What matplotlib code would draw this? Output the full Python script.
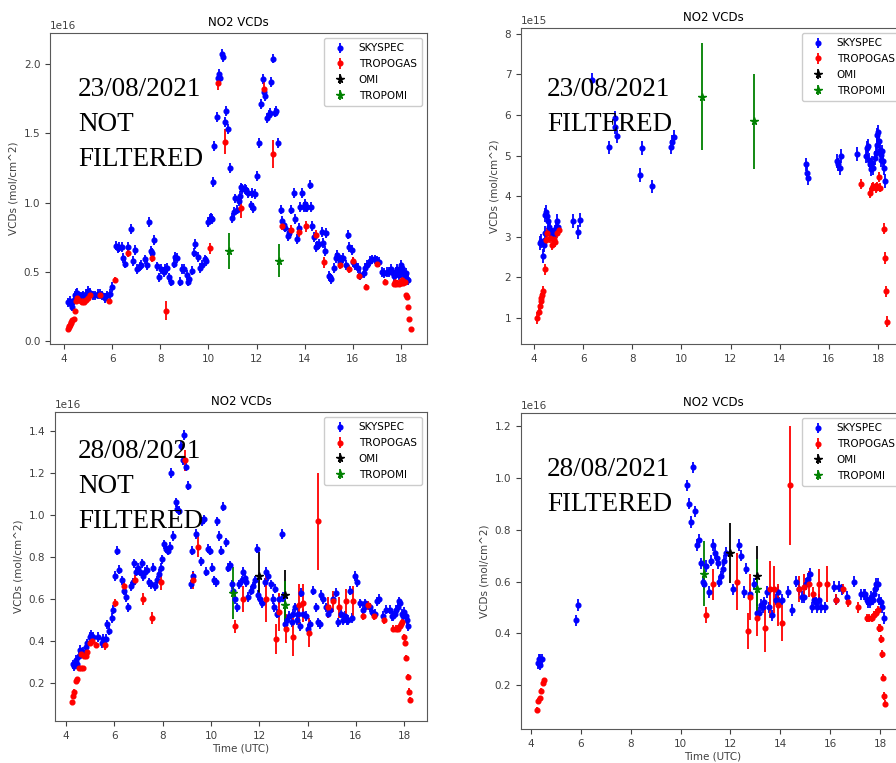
import matplotlib.pyplot as plt
import numpy as np
from matplotlib.ticker import MultipleLocator

# NO2 vertical column densities, values in units of the panel scale
SCALE_2308_RAW = 1e16
SCALE_2308_FILT = 1e15
SCALE_2808 = 1e16

# ---- 23/08/2021, not filtered (x1e16) ----
SKY_2308_RAW = [
    (4.18, 0.28), (4.25, 0.29), (4.3, 0.27), (4.35, 0.25), (4.4, 0.30), (4.45, 0.33),
    (4.5, 0.34), (4.55, 0.35), (4.6, 0.33), (4.65, 0.32), (4.7, 0.31), (4.75, 0.32),
    (4.8, 0.33), (4.9, 0.34), (5.0, 0.36), (5.1, 0.35), (5.2, 0.33), (5.3, 0.33),
    (5.4, 0.34), (5.5, 0.34), (5.6, 0.33), (5.7, 0.31), (5.8, 0.33), (5.9, 0.34),
    (6.0, 0.39), (6.15, 0.69), (6.25, 0.67), (6.3, 0.68), (6.4, 0.68), (6.45, 0.60),
    (6.55, 0.56), (6.65, 0.68), (6.8, 0.81), (6.85, 0.58), (6.95, 0.66), (7.05, 0.52),
    (7.15, 0.54), (7.2, 0.55), (7.35, 0.59), (7.45, 0.55), (7.55, 0.86), (7.6, 0.65),
    (7.65, 0.64), (7.75, 0.73), (7.85, 0.54), (7.95, 0.46), (8.05, 0.52), (8.15, 0.50),
    (8.2, 0.52), (8.3, 0.53), (8.35, 0.46), (8.45, 0.43), (8.55, 0.56), (8.6, 0.61),
    (8.7, 0.60), (8.8, 0.43), (8.9, 0.52), (9.0, 0.52), (9.1, 0.48), (9.15, 0.43),
    (9.2, 0.45), (9.3, 0.51), (9.4, 0.64), (9.45, 0.70), (9.55, 0.61), (9.65, 0.53),
    (9.75, 0.55), (9.85, 0.59), (9.9, 0.58), (10.0, 0.86), (10.05, 0.88), (10.1, 0.89),
    (10.15, 0.88), (10.2, 1.15), (10.25, 1.41), (10.35, 1.62), (10.4, 1.90), (10.45, 1.93),
    (10.5, 1.90), (10.55, 2.07), (10.6, 2.05), (10.7, 1.58), (10.75, 1.66), (10.8, 1.53),
    (10.9, 1.25), (11.0, 0.89), (11.05, 0.93), (11.1, 1.03), (11.2, 0.95), (11.25, 1.01),
    (11.3, 1.05), (11.35, 1.11), (11.4, 1.10), (11.5, 1.10), (11.55, 1.09), (11.65, 1.07),
    (11.75, 0.98), (11.8, 1.07), (11.85, 0.96), (11.95, 1.06), (12.0, 1.19), (12.1, 1.43),
    (12.2, 1.71), (12.25, 1.89), (12.3, 1.80), (12.35, 1.77), (12.45, 1.61), (12.5, 1.63),
    (12.55, 1.65), (12.6, 1.87), (12.7, 2.04), (12.75, 1.65), (12.8, 1.66), (12.9, 1.43),
    (13.0, 0.95), (13.05, 0.87), (13.15, 0.84), (13.2, 0.82), (13.3, 0.76), (13.35, 0.78),
    (13.45, 0.95), (13.55, 1.07), (13.6, 0.88), (13.7, 0.74), (13.75, 0.82), (13.8, 0.97),
    (13.9, 1.07), (13.95, 0.97), (14.0, 0.99), (14.05, 0.97), (14.1, 0.97), (14.2, 1.13),
    (14.25, 0.97), (14.3, 0.83), (14.4, 0.75), (14.45, 0.68), (14.5, 0.69), (14.6, 0.70),
    (14.7, 0.79), (14.75, 0.71), (14.85, 0.65), (14.9, 0.78), (15.0, 0.47), (15.05, 0.46),
    (15.1, 0.45), (15.2, 0.53), (15.3, 0.60), (15.35, 0.62), (15.45, 0.57), (15.5, 0.59),
    (15.6, 0.60), (15.7, 0.55), (15.8, 0.77), (15.85, 0.68), (15.95, 0.66), (16.0, 0.57),
    (16.1, 0.55), (16.2, 0.53), (16.3, 0.48), (16.45, 0.49), (16.5, 0.53), (16.6, 0.55),
    (16.7, 0.58), (16.8, 0.59), (16.9, 0.59), (17.0, 0.58), (17.1, 0.57), (17.2, 0.50),
    (17.3, 0.49), (17.4, 0.50), (17.5, 0.50), (17.6, 0.52), (17.65, 0.49), (17.7, 0.47),
    (17.75, 0.48), (17.8, 0.50), (17.85, 0.52), (17.9, 0.48), (17.95, 0.51), (18.0, 0.55),
    (18.05, 0.53), (18.1, 0.50), (18.15, 0.47), (18.2, 0.49), (18.25, 0.45), (18.3, 0.44),
]
SKY_2308_RAW_ERR = 0.035
TRO_2308_RAW = [
    (4.15, 0.09, 0.01), (4.2, 0.10, 0.01), (4.22, 0.11, 0.01), (4.25, 0.12, 0.01),
    (4.28, 0.13, 0.01), (4.3, 0.14, 0.01), (4.35, 0.15, 0.01), (4.4, 0.16, 0.01),
    (4.45, 0.22, 0.015), (4.5, 0.29, 0.015), (4.55, 0.31, 0.015), (4.6, 0.30, 0.015),
    (4.7, 0.29, 0.015), (4.75, 0.28, 0.015), (4.8, 0.29, 0.015), (4.85, 0.28, 0.015),
    (4.9, 0.30, 0.015), (5.0, 0.31, 0.015), (5.1, 0.33, 0.015), (5.5, 0.33, 0.015),
    (5.85, 0.29, 0.015), (6.1, 0.44, 0.02), (6.65, 0.64, 0.03), (7.65, 0.60, 0.03),
    (8.25, 0.22, 0.07), (10.05, 0.67, 0.04), (10.4, 1.86, 0.05), (10.7, 1.44, 0.09),
    (11.35, 0.96, 0.07), (12.3, 1.82, 0.05), (12.7, 1.35, 0.10), (13.05, 0.83, 0.03),
    (13.45, 0.80, 0.04), (13.75, 0.79, 0.04), (14.05, 0.83, 0.04), (14.45, 0.77, 0.03),
    (14.8, 0.57, 0.04), (15.45, 0.55, 0.03), (15.85, 0.52, 0.03), (16.0, 0.58, 0.03),
    (16.25, 0.47, 0.02), (16.55, 0.39, 0.02), (17.0, 0.56, 0.02), (17.35, 0.43, 0.02),
    (17.7, 0.41, 0.02), (17.75, 0.43, 0.02), (17.8, 0.41, 0.02), (17.85, 0.42, 0.02),
    (17.9, 0.41, 0.02), (17.95, 0.43, 0.02), (18.0, 0.42, 0.02), (18.05, 0.44, 0.02),
    (18.1, 0.42, 0.02), (18.15, 0.43, 0.02), (18.2, 0.33, 0.015), (18.25, 0.32, 0.015),
    (18.3, 0.25, 0.015), (18.35, 0.16, 0.01), (18.4, 0.09, 0.01),
]
OMI_2308_RAW = []
TROPOMI_2308_RAW = [(10.85, 0.65, 0.13), (12.95, 0.58, 0.12)]

# ---- 23/08/2021, filtered (x1e15) ----
SKY_2308_FILT = [
    (4.23, 2.84), (4.27, 2.89), (4.37, 2.52), (4.41, 2.80), (4.44, 3.09), (4.46, 3.54),
    (4.5, 3.62), (4.54, 3.50), (4.57, 3.38), (4.61, 3.25), (4.67, 3.17), (4.71, 3.09),
    (4.78, 3.05), (4.84, 3.13), (4.91, 3.21), (4.95, 3.38), (4.98, 3.25), (5.59, 3.38),
    (5.8, 3.11), (5.89, 3.42), (6.34, 6.86), (7.05, 5.20), (7.3, 5.92), (7.3, 5.71),
    (7.36, 5.47), (8.31, 4.52), (8.38, 5.18), (8.79, 4.24), (9.58, 5.22), (9.63, 5.34),
    (9.69, 5.45), (15.06, 4.78), (15.13, 4.58), (15.16, 4.44), (16.33, 4.86), (16.38, 4.78),
    (16.44, 4.70), (16.49, 4.99), (17.14, 5.03), (17.51, 4.99), (17.55, 5.19), (17.6, 5.23),
    (17.63, 4.90), (17.67, 4.78), (17.7, 4.66), (17.76, 4.82), (17.8, 4.70), (17.86, 4.94),
    (17.91, 5.06), (17.95, 5.27), (17.97, 5.51), (18.0, 5.59), (18.04, 5.35), (18.08, 5.14),
    (18.11, 5.02), (18.13, 4.90), (18.17, 5.10), (18.21, 4.86), (18.23, 4.70), (18.27, 4.37),
]
SKY_2308_FILT_ERR = 0.17
TRO_2308_FILT = [
    (4.14, 1.00, 0.15), (4.19, 1.16, 0.12), (4.23, 1.29, 0.12), (4.27, 1.41, 0.12),
    (4.3, 1.49, 0.12), (4.34, 1.57, 0.12), (4.38, 1.66, 0.14), (4.44, 2.20, 0.14),
    (4.48, 2.93, 0.12), (4.54, 3.09, 0.12), (4.64, 2.97, 0.12), (4.73, 2.80, 0.12),
    (4.82, 2.94, 0.12), (4.87, 2.86, 0.12), (4.95, 3.09, 0.12), (5.01, 3.17, 0.12),
    (17.31, 4.30, 0.12), (17.69, 4.08, 0.12), (17.74, 4.20, 0.12), (17.81, 4.24, 0.12),
    (17.9, 4.20, 0.12), (17.95, 4.24, 0.12), (18.05, 4.48, 0.12), (18.09, 4.21, 0.12),
    (18.23, 3.20, 0.14), (18.28, 2.48, 0.14), (18.33, 1.66, 0.14), (18.37, 0.91, 0.14),
]
OMI_2308_FILT = []
TROPOMI_2308_FILT = [(10.83, 6.45, 1.32), (12.94, 5.84, 1.17)]

# ---- 28/08/2021, not filtered (x1e16) ----
SKY_2808_RAW = [
    (4.3, 0.29), (4.33, 0.28), (4.41, 0.31), (4.45, 0.29), (4.52, 0.33), (4.58, 0.36),
    (4.65, 0.34), (4.72, 0.35), (4.83, 0.37), (4.88, 0.39), (4.97, 0.42), (5.02, 0.43),
    (5.1, 0.42), (5.34, 0.42), (5.48, 0.39), (5.54, 0.41), (5.65, 0.41), (5.71, 0.48),
    (5.79, 0.45), (5.9, 0.51), (5.96, 0.55), (6.03, 0.71), (6.1, 0.83), (6.19, 0.74),
    (6.3, 0.69), (6.4, 0.64), (6.48, 0.61), (6.57, 0.56), (6.68, 0.66), (6.76, 0.68),
    (6.82, 0.77), (6.9, 0.73), (6.99, 0.75), (7.06, 0.73), (7.13, 0.77), (7.2, 0.71),
    (7.26, 0.73), (7.34, 0.74), (7.42, 0.68), (7.5, 0.67), (7.59, 0.75), (7.68, 0.66),
    (7.78, 0.69), (7.86, 0.72), (7.93, 0.75), (7.99, 0.79), (8.06, 0.86), (8.14, 0.84),
    (8.24, 0.83), (8.3, 0.85), (8.33, 1.20), (8.44, 0.90), (8.54, 1.06), (8.61, 1.03),
    (8.68, 1.02), (8.76, 1.33), (8.83, 1.26), (8.9, 1.38), (8.97, 1.23), (9.03, 1.14),
    (9.16, 0.67), (9.2, 0.83), (9.26, 0.71), (9.4, 0.91), (9.57, 0.78), (9.64, 0.97),
    (9.71, 0.98), (9.79, 0.73), (9.89, 0.84), (9.96, 0.83), (10.06, 0.75), (10.14, 0.69),
    (10.21, 0.68), (10.26, 0.97), (10.35, 0.90), (10.42, 0.83), (10.51, 1.04), (10.62, 0.87),
    (10.72, 0.75), (10.79, 0.76), (10.86, 0.67), (10.92, 0.64), (10.99, 0.60), (11.09, 0.56),
    (11.17, 0.67), (11.27, 0.69), (11.34, 0.73), (11.41, 0.70), (11.47, 0.68), (11.54, 0.61),
    (11.64, 0.64), (11.75, 0.66), (11.82, 0.69), (11.89, 0.84), (11.96, 0.62), (12.05, 0.60),
    (12.12, 0.58), (12.23, 0.68), (12.3, 0.73), (12.37, 0.71), (12.47, 0.67), (12.55, 0.60),
    (12.61, 0.56), (12.66, 0.65), (12.75, 0.53), (12.83, 0.60), (12.93, 0.91), (12.99, 0.61),
    (13.06, 0.48), (13.16, 0.50), (13.24, 0.52), (13.34, 0.49), (13.41, 0.53), (13.48, 0.56),
    (13.55, 0.50), (13.61, 0.53), (13.68, 0.47), (13.75, 0.63), (13.82, 0.53), (13.93, 0.52),
    (14.03, 0.46), (14.12, 0.48), (14.23, 0.64), (14.34, 0.56), (14.43, 0.49), (14.5, 0.48),
    (14.57, 0.62), (14.66, 0.60), (14.75, 0.56), (14.86, 0.53), (14.95, 0.55), (15.06, 0.60),
    (15.17, 0.63), (15.27, 0.49), (15.37, 0.53), (15.48, 0.50), (15.56, 0.52), (15.62, 0.50),
    (15.68, 0.50), (15.75, 0.64), (15.86, 0.51), (15.96, 0.71), (16.06, 0.68), (16.17, 0.58),
    (16.31, 0.55), (16.37, 0.58), (16.44, 0.57), (16.57, 0.56), (16.68, 0.54), (16.78, 0.53),
    (16.88, 0.59), (16.97, 0.60), (17.13, 0.52), (17.27, 0.55), (17.41, 0.55), (17.48, 0.52),
    (17.55, 0.52), (17.61, 0.53), (17.68, 0.55), (17.75, 0.56), (17.8, 0.59), (17.85, 0.58),
    (17.9, 0.53), (17.95, 0.52), (18.01, 0.54), (18.06, 0.52), (18.12, 0.50), (18.17, 0.47),
]
SKY_2808_RAW_ERR = 0.022
TRO_2808_RAW = [
    (4.23, 0.11, 0.01), (4.28, 0.14, 0.01), (4.33, 0.16, 0.01), (4.41, 0.21, 0.01),
    (4.47, 0.22, 0.01), (4.52, 0.27, 0.01), (4.61, 0.27, 0.01), (4.69, 0.27, 0.01),
    (4.63, 0.34, 0.015), (4.74, 0.33, 0.015), (4.83, 0.33, 0.015), (4.88, 0.35, 0.015),
    (4.97, 0.39, 0.015), (5.08, 0.40, 0.015), (5.24, 0.38, 0.015), (5.62, 0.38, 0.02),
    (6.03, 0.58, 0.02), (6.4, 0.66, 0.02), (6.84, 0.69, 0.025), (7.2, 0.60, 0.03),
    (7.55, 0.51, 0.03), (7.92, 0.68, 0.035), (8.93, 1.26, 0.05), (9.24, 0.69, 0.04),
    (9.45, 0.85, 0.05), (10.99, 0.47, 0.03), (11.31, 0.60, 0.06), (12.3, 0.60, 0.11),
    (12.69, 0.41, 0.07), (12.83, 0.54, 0.09), (13.1, 0.46, 0.07), (13.41, 0.42, 0.09),
    (13.66, 0.57, 0.10), (13.8, 0.58, 0.09), (14.08, 0.44, 0.07), (14.42, 0.97, 0.23),
    (14.86, 0.56, 0.05), (15.04, 0.59, 0.05), (15.32, 0.56, 0.05), (15.6, 0.59, 0.06),
    (15.9, 0.59, 0.07), (16.31, 0.52, 0.02), (16.51, 0.57, 0.02), (16.74, 0.52, 0.02),
    (17.15, 0.50, 0.02), (17.55, 0.46, 0.015), (17.66, 0.46, 0.015), (17.75, 0.46, 0.015),
    (17.82, 0.47, 0.015), (17.89, 0.48, 0.015), (17.93, 0.49, 0.015), (17.99, 0.42, 0.015),
    (18.04, 0.39, 0.015), (18.1, 0.32, 0.015), (18.15, 0.23, 0.015), (18.21, 0.16, 0.015),
    (18.26, 0.12, 0.015),
]
OMI_2808_RAW = [(12.0, 0.71, 0.115), (13.06, 0.62, 0.12)]
TROPOMI_2808_RAW = [(10.92, 0.63, 0.125), (13.06, 0.57, 0.115)]

# ---- 28/08/2021, filtered (x1e16) ----
SKY_2808_FILT = [
    (4.29, 0.285), (4.33, 0.30), (4.37, 0.30), (4.44, 0.30), (4.37, 0.28), (5.82, 0.45),
    (5.9, 0.51), (10.26, 0.97), (10.35, 0.90), (10.42, 0.83), (10.51, 1.04), (10.58, 0.87),
    (10.66, 0.74), (10.73, 0.76), (10.82, 0.67), (10.89, 0.60), (10.95, 0.59), (11.03, 0.66),
    (11.12, 0.56), (11.22, 0.68), (11.31, 0.74), (11.38, 0.71), (11.46, 0.69), (11.52, 0.67),
    (11.55, 0.60), (11.62, 0.62), (11.69, 0.65), (11.75, 0.68), (11.82, 0.71), (12.09, 0.57),
    (12.35, 0.74), (12.42, 0.70), (12.55, 0.56), (12.64, 0.65), (12.8, 0.55), (12.96, 0.59),
    (13.06, 0.48), (13.15, 0.48), (13.22, 0.51), (13.29, 0.50), (13.36, 0.52), (13.47, 0.56),
    (13.56, 0.50), (13.65, 0.47), (13.82, 0.53), (13.89, 0.56), (13.96, 0.52), (14.05, 0.53),
    (14.3, 0.56), (14.47, 0.49), (14.63, 0.60), (14.76, 0.57), (14.86, 0.54), (14.94, 0.54),
    (15.03, 0.59), (15.12, 0.61), (15.19, 0.63), (15.26, 0.50), (15.34, 0.53), (15.43, 0.52),
    (15.49, 0.50), (15.56, 0.53), (15.63, 0.50), (15.79, 0.50), (16.14, 0.58), (16.23, 0.53),
    (16.37, 0.58), (16.46, 0.57), (16.67, 0.54), (16.94, 0.60), (17.24, 0.55), (17.34, 0.55),
    (17.39, 0.55), (17.47, 0.53), (17.52, 0.52), (17.58, 0.52), (17.64, 0.54), (17.7, 0.53),
    (17.74, 0.55), (17.79, 0.57), (17.84, 0.59), (17.9, 0.59), (17.96, 0.53), (18.02, 0.52),
    (18.09, 0.50), (18.15, 0.46),
]
SKY_2808_FILT_ERR = 0.022
TRO_2808_FILT = [
    (4.24, 0.105, 0.01), (4.29, 0.14, 0.01), (4.35, 0.15, 0.01), (4.4, 0.18, 0.01),
    (4.47, 0.21, 0.01), (4.53, 0.22, 0.01), (11.03, 0.47, 0.03), (11.31, 0.59, 0.06),
    (12.28, 0.60, 0.11), (12.69, 0.41, 0.07), (12.8, 0.54, 0.09), (13.06, 0.46, 0.07),
    (13.38, 0.42, 0.09), (13.6, 0.57, 0.11), (13.73, 0.57, 0.09), (13.89, 0.51, 0.08),
    (14.05, 0.44, 0.07), (14.4, 0.97, 0.23), (14.76, 0.57, 0.05), (14.96, 0.58, 0.05),
    (15.16, 0.59, 0.05), (15.3, 0.55, 0.03), (15.56, 0.59, 0.06), (15.87, 0.59, 0.07),
    (16.23, 0.53, 0.02), (16.5, 0.57, 0.02), (16.7, 0.52, 0.02), (17.13, 0.50, 0.02),
    (17.48, 0.46, 0.015), (17.57, 0.46, 0.015), (17.66, 0.46, 0.015), (17.74, 0.47, 0.015),
    (17.84, 0.48, 0.015), (17.9, 0.49, 0.015), (17.94, 0.42, 0.015), (17.99, 0.42, 0.015),
    (18.03, 0.38, 0.015), (18.06, 0.32, 0.015), (18.11, 0.23, 0.015), (18.17, 0.16, 0.015),
    (18.21, 0.13, 0.015),
]
OMI_2808_FILT = [(11.99, 0.71, 0.115), (13.06, 0.62, 0.115)]
TROPOMI_2808_FILT = [(10.92, 0.63, 0.125), (13.06, 0.57, 0.115)]

W, H = 896, 763
FS = 7.5


def px_axes(fig, left, top, right, bottom):
    return fig.add_axes([left / W, 1 - bottom / H, (right - left) / W, (bottom - top) / H])


def as_cols(points, ncol):
    arr = np.array(points, dtype=float).reshape(-1, ncol)
    return arr.T


def draw_panel(ax, scale, sky, sky_err, tro, omi, tropomi, xlim, ylim, ystep, xlabel=None):
    t, v = as_cols(sky, 2)
    ax.errorbar(t, v * scale, yerr=sky_err * scale, fmt="o", color="blue",
                ms=3.4, elinewidth=1.3, label="SKYSPEC")
    for pts, color, fmt, ms, label in [
        (tro, "red", "o", 3.4, "TROPOGAS"),
        (omi, "black", "*", 5.5, "OMI"),
        (tropomi, "green", "*", 5.5, "TROPOMI"),
    ]:
        t, v, e = as_cols(pts, 3)
        ax.errorbar(t, v * scale, yerr=e * scale, fmt=fmt, color=color,
                    ms=ms, elinewidth=1.3, label=label)

    ax.set_xlim(*xlim)
    ax.set_ylim(ylim[0] * scale, ylim[1] * scale)
    ax.yaxis.set_major_locator(MultipleLocator(ystep * scale))
    ax.set_title("NO2 VCDs", fontsize=8.5, pad=5)
    ax.set_ylabel("VCDs (mol/cm^2)", fontsize=FS, color="0.25")
    if xlabel:
        ax.set_xlabel(xlabel, fontsize=FS, color="0.25", labelpad=2)
    ax.tick_params(labelsize=FS, colors="0.25", length=3.5)
    ax.yaxis.get_offset_text().set_fontsize(FS)
    ax.yaxis.get_offset_text().set_color("0.25")
    for sp in ax.spines.values():
        sp.set_color("0.35")
    ax.legend(loc="upper right", fontsize=FS, handlelength=2.0, borderpad=0.5,
              labelspacing=0.55, handletextpad=0.8, framealpha=1.0, edgecolor="0.8")


fig = plt.figure(figsize=(W / 100, H / 100), dpi=100)

ax_tl = px_axes(fig, 50, 33, 427, 344)
draw_panel(ax_tl, SCALE_2308_RAW, SKY_2308_RAW, SKY_2308_RAW_ERR, TRO_2308_RAW,
           OMI_2308_RAW, TROPOMI_2308_RAW, (3.42, 19.08), (-0.02, 2.224), 0.5)

ax_tr = px_axes(fig, 521, 28, 905, 344)
draw_panel(ax_tr, SCALE_2308_FILT, SKY_2308_FILT, SKY_2308_FILT_ERR, TRO_2308_FILT,
           OMI_2308_FILT, TROPOMI_2308_FILT, (3.47, 19.1), (0.36, 8.14), 1.0)

ax_bl = px_axes(fig, 55, 412, 427, 721)
draw_panel(ax_bl, SCALE_2808, SKY_2808_RAW, SKY_2808_RAW_ERR, TRO_2808_RAW,
           OMI_2808_RAW, TROPOMI_2808_RAW, (3.54, 18.95), (0.02, 1.49), 0.2, "Time (UTC)")

ax_br = px_axes(fig, 521, 413, 905, 729)
draw_panel(ax_br, SCALE_2808, SKY_2808_FILT, SKY_2808_FILT_ERR, TRO_2808_FILT,
           OMI_2808_FILT, TROPOMI_2808_FILT, (3.6, 19.0), (0.032, 1.249), 0.2, "Time (UTC)")

# date / processing labels on top of each panel
notes = [
    (78, 77, "23/08/2021\nNOT\nFILTERED"),
    (547, 77, "23/08/2021\nFILTERED"),
    (78, 439, "28/08/2021\nNOT\nFILTERED"),
    (547, 457, "28/08/2021\nFILTERED"),
]
for x, y, txt in notes:
    fig.text(x / W, 1 - y / H, txt, ha="left", va="top", fontsize=19.5,
             family="Liberation Serif", linespacing=1.52, zorder=10)

fig.savefig("out.png", dpi=100)
